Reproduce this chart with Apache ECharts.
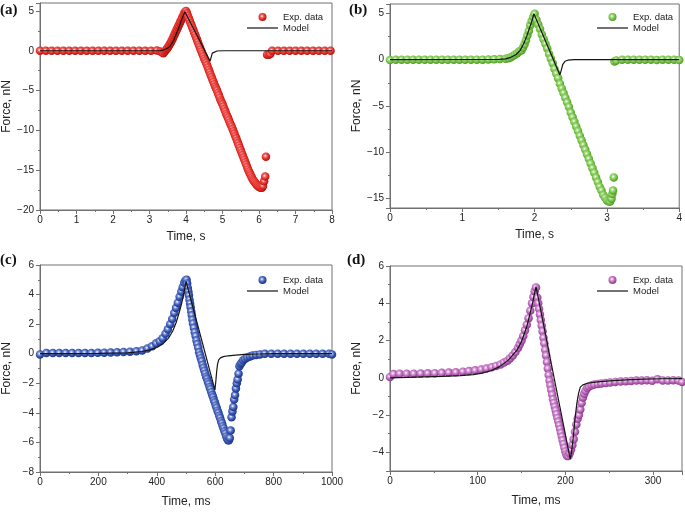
<!DOCTYPE html>
<html><head><meta charset="utf-8">
<script src="https://cdn.jsdelivr.net/npm/echarts@6/dist/echarts.min.js"></script>
<style>html,body{margin:0;padding:0;background:#fff}#c{width:685px;height:512px}</style>
</head><body><div id="c"></div>
<script>
// ---------- DATA ----------
const panelLabels = ['(a)', '(b)', '(c)', '(d)'];
const xTitles = ['Time, s', 'Time, s', 'Time, ms', 'Time, ms'];
const yTitle = 'Force, nN';
const legendNames = ['Exp. data', 'Model'];

const aExp = [[0,0],[0.16,0],[0.32,0],[0.48,0],[0.64,0],[0.8,0],[0.96,0],[1.12,0],[1.28,0],[1.44,0],[1.6,0],[1.76,0],[1.92,0],[2.08,0],[2.24,0],[2.4,0],[2.56,0],[2.72,0],[2.88,0],[3.04,0],[3.2,0.02],
[3.3,-0.1],[3.35,-0.2],[3.38,-0.3],[3.42,-0.1],[3.45,0.1],[3.48,0.25],[3.5,0.4],[3.53,0.6],[3.55,0.8],[3.58,1.0],[3.6,1.2],[3.63,1.45],[3.65,1.7],[3.68,1.95],[3.7,2.2],[3.73,2.45],[3.75,2.7],[3.78,2.95],[3.8,3.2],[3.83,3.45],[3.85,3.7],[3.88,3.95],[3.9,4.2],[3.93,4.45],[3.95,4.7],[3.98,4.9],[4.0,5.0],
[4.025,4.7],[4.05,4.4],[4.075,4.1],[4.1,3.8],[4.125,3.5],[4.15,3.2],[4.175,2.9],[4.2,2.6],[4.225,2.3],[4.25,2.0],[4.275,1.7],[4.3,1.4],[4.325,1.1],[4.35,0.8],[4.375,0.5],[4.4,0.2],[4.425,-0.1],[4.45,-0.4],[4.475,-0.7],[4.5,-1.0],[4.525,-1.25],[4.55,-1.5],[4.575,-1.8],[4.6,-2.1],[4.625,-2.4],[4.65,-2.7],[4.675,-3.0],[4.7,-3.3],[4.725,-3.6],[4.75,-3.9],[4.775,-4.2],[4.8,-4.5],[4.825,-4.75],[4.85,-5.0],[4.875,-5.3],[4.9,-5.6],[4.925,-5.9],[4.95,-6.2],[4.975,-6.45],[5.0,-6.7],[5.025,-7.0],[5.05,-7.3],[5.075,-7.6],[5.1,-7.9],[5.125,-8.15],[5.15,-8.4],[5.175,-8.7],[5.2,-9.0],[5.225,-9.25],[5.25,-9.5],[5.275,-9.8],[5.3,-10.1],[5.325,-10.4],[5.35,-10.7],[5.375,-11.0],[5.4,-11.3],[5.425,-11.6],[5.45,-11.9],[5.475,-12.2],[5.5,-12.5],[5.525,-12.8],[5.55,-13.1],[5.575,-13.4],[5.6,-13.7],[5.625,-14.0],[5.65,-14.3],[5.675,-14.6],[5.7,-14.9],[5.725,-15.15],[5.75,-15.4],[5.775,-15.65],[5.8,-15.9],[5.825,-16.1],[5.85,-16.3],[5.875,-16.45],[5.9,-16.6],[5.925,-16.75],[5.95,-16.9],[5.975,-17.0],[6.0,-17.1],[6.025,-17.15],[6.05,-17.2],[6.08,-17.2],[6.11,-17.0],[6.14,-16.4],[6.17,-15.8],[6.19,-13.3],
[6.22,-0.5],[6.27,-0.5],[6.31,-0.4],[6.36,0],[6.52,0],[6.68,0],[6.84,0],[7.0,0],[7.16,0],[7.32,0],[7.48,0],[7.64,0],[7.8,0],[7.96,0]];
const aModel = [[0,0],[3.0,0],[3.3,0.02],[3.4,0.12],[3.5,0.35],[3.56,0.55],[3.65,1.2],[3.74,2.2],[3.82,3.1],[3.88,3.9],[3.97,4.9],[4.66,-1.3],[4.69,-0.8],[4.72,-0.3],[4.76,-0.1],[4.85,-0.03],[5.0,0],[8,0]];

const bExp = [[0,-0.05],[0.08,0],[0.16,0],[0.24,0],[0.32,0],[0.4,0],[0.48,0],[0.56,0],[0.64,0],[0.72,0],[0.8,0],[0.88,0],[0.96,0],[1.04,0],[1.12,0],[1.2,0],[1.28,0],[1.36,0.02],[1.44,0.04],[1.52,0.06],[1.6,0.1],
[1.64,0.15],[1.67,0.25],[1.7,0.38],[1.73,0.52],[1.76,0.7],[1.79,0.9],[1.82,1.0],[1.84,1.3],[1.86,1.65],[1.88,2.1],[1.9,2.6],[1.92,3.1],[1.94,3.7],[1.96,4.2],[1.98,4.6],[2.0,4.95],
[2.025,4.3],[2.05,3.8],[2.075,3.3],[2.1,2.7],[2.125,2.2],[2.15,1.7],[2.175,1.2],[2.2,0.6],[2.225,0.1],[2.25,-0.4],[2.275,-1.0],[2.3,-1.5],[2.325,-2.0],[2.35,-2.6],[2.375,-3.1],[2.4,-3.6],[2.425,-4.1],[2.45,-4.6],[2.475,-5.1],[2.5,-5.7],[2.525,-6.2],[2.55,-6.7],[2.575,-7.2],[2.6,-7.7],[2.625,-8.2],[2.65,-8.7],[2.675,-9.2],[2.7,-9.7],[2.725,-10.2],[2.75,-10.7],[2.775,-11.2],[2.8,-11.7],[2.825,-12.2],[2.85,-12.7],[2.875,-13.2],[2.9,-13.7],[2.925,-14.1],[2.95,-14.6],[2.975,-14.9],[3.0,-15.2],[3.025,-15.3],[3.045,-15.3],[3.065,-15.0],[3.075,-14.5],[3.085,-14.1],[3.095,-12.7],
[3.105,-0.2],[3.13,-0.1],[3.21,0],[3.29,0],[3.37,0],[3.45,0],[3.53,0],[3.61,0],[3.69,-0.05],[3.77,0],[3.85,0],[3.93,0],[4.0,-0.05]];
const bModel = [[0,0],[1.5,0.03],[1.6,0.08],[1.67,0.25],[1.74,0.53],[1.8,1.0],[1.85,1.75],[1.89,2.5],[1.92,3.2],[1.96,4.1],[1.99,4.95],[2.35,-1.65],[2.37,-1.1],[2.39,-0.5],[2.42,-0.18],[2.46,-0.06],[2.55,0],[4,0]];

const cExp = [[0,-0.05],[22,0.05],[44,0.05],[66,0.05],[88,0.05],[110,0.05],[132,0.05],[154,0.05],[176,0.05],[198,0.06],[220,0.07],[242,0.08],[264,0.1],[286,0.12],[308,0.14],[330,0.17],[350,0.22],[368,0.35],[384,0.5],[398,0.7],
[410,0.85],[420,1.05],[430,1.35],[438,1.65],[446,2.0],[453,2.35],[460,2.75],[466,3.1],[472,3.45],[478,3.85],[484,4.2],[489,4.5],[494,4.8],[498,4.95],[502,5.0],
[504,4.75],[506,4.45],[508,4.2],[510,3.95],[512,3.65],[514,3.4],[516,3.15],[518,2.85],[520,2.6],[522,2.3],[524,2.05],[527,1.75],[530,1.45],[533,1.2],[536,0.9],[539,0.65],[542,0.4],[545,0.1],[548,-0.1],[551,-0.3],[554,-0.5],[557,-0.75],[560,-0.95],[563,-1.15],[566,-1.35],[569,-1.55],[572,-1.7],[575,-1.9],[578,-2.05],[581,-2.25],[584,-2.4],[587,-2.6],[590,-2.8],[593,-2.95],[596,-3.15],[599,-3.3],[602,-3.5],[605,-3.65],[608,-3.85],[611,-4.0],[614,-4.2],[617,-4.35],[620,-4.55],[623,-4.7],[626,-4.9],[629,-5.05],[632,-5.25],[635,-5.4],[638,-5.6],[641,-5.75],[644,-5.85],[647,-5.85],[650,-5.7],
[653,-5.2],[656,-4.3],[659,-3.9],[662,-3.6],[665,-3.1],[668,-2.8],[671,-2.35],[674,-2.0],[677,-1.75],[680,-1.35],[683,-0.85],[687,-0.7],[691,-0.6],[696,-0.45],[702,-0.35],[710,-0.25],[719,-0.18],[728,-0.12],[740,-0.08],[753,-0.05],
[770,0],[792,0],[814,0],[836,0],[858,0],[880,0],[902,0],[924,0],[946,0],[968,0],[990,0],[1000,-0.05]];
const cModel = [[0,0],[100,0],[200,0.02],[300,0.06],[350,0.15],[380,0.28],[400,0.42],[420,0.65],[440,1.05],[455,1.55],[467,2.15],[477,2.8],[485,3.4],[492,4.0],[500,4.9],[599,-2.45],[602,-1.9],[605,-1.2],[608,-0.7],[612,-0.42],[618,-0.28],[628,-0.2],[645,-0.14],[670,-0.09],[700,-0.05],[750,-0.02],[800,0],[1000,0]];

const dExp = [[0,0.05],[4,0.2],[11,0.22],[19,0.22],[27,0.22],[35,0.23],[43,0.24],[51,0.25],[59,0.27],[67,0.28],[75,0.3],[83,0.33],[90,0.36],[97,0.4],[104,0.45],[110,0.5],[116,0.57],[121,0.64],[126,0.72],[130,0.82],[134,0.92],[137,1.05],[140,1.2],[143,1.38],[146,1.6],[148,1.8],[150,2.0],[152,2.25],[154,2.55],[156,2.85],[158,3.2],[160,3.6],[162,4.0],[163.5,4.35],[165,4.65],[166.5,4.85],
[168,4.3],[169,4.0],[170,3.7],[171,3.4],[172,3.1],[173,2.8],[174,2.5],[175,2.15],[176,1.85],[177,1.5],[178,1.2],[179,0.85],[180,0.5],[181,0.15],[182,-0.15],[183,-0.4],[184,-0.65],[185,-0.9],[186,-1.15],[187,-1.35],[188,-1.55],[189,-1.75],[190,-1.95],[191,-2.15],[192,-2.35],[193,-2.55],[194,-2.75],[195,-2.95],[196,-3.15],[197,-3.35],[198,-3.55],[199,-3.75],[200,-3.95],[201,-4.1],[202,-4.2],[203.5,-4.2],
[205,-4.05],[206.5,-3.85],[208,-3.6],[209.5,-3.3],[211,-2.9],[212.5,-2.5],[214,-2.2],[215.5,-2.0],[217,-1.7],[218.5,-1.35],[220,-1.05],[221.5,-0.85],[223,-0.7],[225,-0.55],[227,-0.47],[230,-0.4],[233,-0.36],[237,-0.33],[241,-0.3],[246,-0.28],[251,-0.25],[257,-0.22],[263,-0.2],[269,-0.18],[275,-0.17],[281,-0.15],[287,-0.14],[293,-0.13],[299,-0.16],[305,-0.08],[311,-0.14],[317,-0.15],[323,-0.13],[329,-0.15],[333,-0.22]];
const dModel = [[0,0],[20,0.02],[40,0.05],[60,0.08],[80,0.12],[95,0.17],[105,0.25],[115,0.38],[125,0.6],[135,0.95],[145,1.5],[150,1.95],[156,2.75],[160,3.5],[163,4.1],[166.5,4.9],[205.5,-4.35],[207,-4.0],[209,-3.2],[211,-2.2],[213,-1.4],[215,-0.85],[217,-0.5],[220,-0.38],[225,-0.29],[232,-0.24],[240,-0.2],[255,-0.15],[270,-0.11],[290,-0.07],[310,-0.05],[333,-0.04]];

// axis ranges and tick steps
const xRanges = [[0,8,1],[0,4,1],[0,1000,200],[0,333,100]];
const yRanges = [[-20,6,5],[-16,6,5],[-8,6,2],[-5,6,2]];

// ---------- STYLE / LAYOUT ----------
const expSets = [aExp, bExp, cExp, dExp];
const modelSets = [aModel, bModel, cModel, dModel];
const colors = [
  ['#ffffff', '#f26b6b', '#e32a22', '#b3120e'],
  ['#ffffff', '#a6dc82', '#72c043', '#4f9a26'],
  ['#ffffff', '#7f94d6', '#3452b0', '#1d368a'],
  ['#ffffff', '#d9a0d9', '#b460b4', '#8e3c8e']
];
const grids = [
  {left: 40, top: 3, width: 292, height: 207},
  {left: 390, top: 4, width: 292, height: 204},
  {left: 40, top: 265, width: 292, height: 207},
  {left: 390, top: 266, width: 292, height: 205}
];
const legendPos = [[247, 12], [597, 12], [247, 275], [597, 275]];
const titlePos = [[0, 3], [349, 3], [0, 253], [347, 253]];
const xNameGap = [21, 21, 24, 24];
const axisGray = '#707070';
const txt = '#222';
const sans = 'Liberation Sans, Arial, sans-serif';

function fmt(v, step) {
  if (Math.abs(v / step - Math.round(v / step)) > 1e-6) return '';
  return v < 0 ? '\u2212' + Math.abs(v) : String(v);
}
function sphere(c) {
  return new echarts.graphic.RadialGradient(0.42, 0.4, 0.6, [
    {offset: 0, color: c[0]}, {offset: 0.3, color: c[1]}, {offset: 0.65, color: c[2]}, {offset: 1, color: c[3]}
  ]);
}

const option = {
  backgroundColor: '#fff',
  animation: false,
  title: [], grid: [], xAxis: [], yAxis: [], legend: [], series: []
};

for (let i = 0; i < 4; i++) {
  option.title.push({text: panelLabels[i], left: titlePos[i][0], top: titlePos[i][1], padding: 0,
    textStyle: {fontFamily: 'Liberation Serif, Times New Roman, serif', fontWeight: 'bold', fontSize: 15, color: '#111'}});
  option.grid.push(Object.assign({show: true, borderColor: axisGray, borderWidth: 1, backgroundColor: 'transparent'}, grids[i]));
  const xr = xRanges[i], yr = yRanges[i];
  option.xAxis.push({
    type: 'value', gridIndex: i, min: xr[0], max: xr[1], interval: xr[2],
    name: xTitles[i], nameLocation: 'middle', nameGap: xNameGap[i],
    nameTextStyle: {fontSize: 12, color: txt, fontFamily: sans},
    axisLine: {show: true, onZero: false, lineStyle: {color: axisGray, width: 1}},
    axisTick: {show: true, inside: false, length: 4, lineStyle: {color: axisGray}},
    minorTick: {show: true, splitNumber: 2, length: 2, lineStyle: {color: axisGray}},
    splitLine: {show: false},
    axisLabel: {fontSize: 10, color: txt, fontFamily: sans, margin: 5, formatter: v => fmt(v, xr[2])}
  });
  const yAxis = {
    type: 'value', gridIndex: i, min: yr[0], max: yr[1],
    name: yTitle, nameLocation: 'middle', nameGap: 27, nameRotate: 90,
    nameTextStyle: {fontSize: 12, color: txt, fontFamily: sans},
    axisLine: {show: true, onZero: false, lineStyle: {color: axisGray, width: 1}},
    axisTick: {show: true, inside: false, length: 4, lineStyle: {color: axisGray}},
    minorTick: {show: true, splitNumber: 2, length: 2, lineStyle: {color: axisGray}},
    splitLine: {show: false},
    axisLabel: {fontSize: 10, color: txt, fontFamily: sans, margin: 6, formatter: v => fmt(v, yr[2])}
  };
  if (yr[0] % yr[2] === 0) yAxis.interval = yr[2]; else yAxis.splitNumber = 5;
  option.yAxis.push(yAxis);

  const expName = legendNames[0] + ' ' + panelLabels[i];
  const modName = legendNames[1] + ' ' + panelLabels[i];
  option.series.push({
    name: expName, type: 'scatter', xAxisIndex: i, yAxisIndex: i, data: expSets[i],
    symbol: 'circle', symbolSize: 8.5, z: 2,
    itemStyle: {color: sphere(colors[i]), opacity: 1}
  });
  option.series.push({
    name: modName, type: 'line', xAxisIndex: i, yAxisIndex: i, data: modelSets[i],
    symbol: 'none', showSymbol: false, z: 3,
    lineStyle: {color: '#151515', width: 1.2}, itemStyle: {color: '#151515'}
  });
  option.legend.push({
    left: legendPos[i][0], top: legendPos[i][1], orient: 'vertical', padding: 0,
    itemWidth: 31, itemHeight: 8, itemGap: 1, selectedMode: false, symbolKeepAspect: true,
    data: [{name: expName, icon: 'circle'}, {name: modName, icon: 'path://M0,0H31V1.2H0Z', itemStyle: {color: '#151515'}}],
    formatter: n => n.indexOf(legendNames[0]) === 0 ? legendNames[0] : legendNames[1],
    textStyle: {fontSize: 9.5, color: txt, fontFamily: sans, padding: [0, 0, 0, 0]}
  });
}

const chart = echarts.init(document.getElementById('c'), null, {renderer: 'canvas'});
chart.setOption(option);
</script>
</body></html>
